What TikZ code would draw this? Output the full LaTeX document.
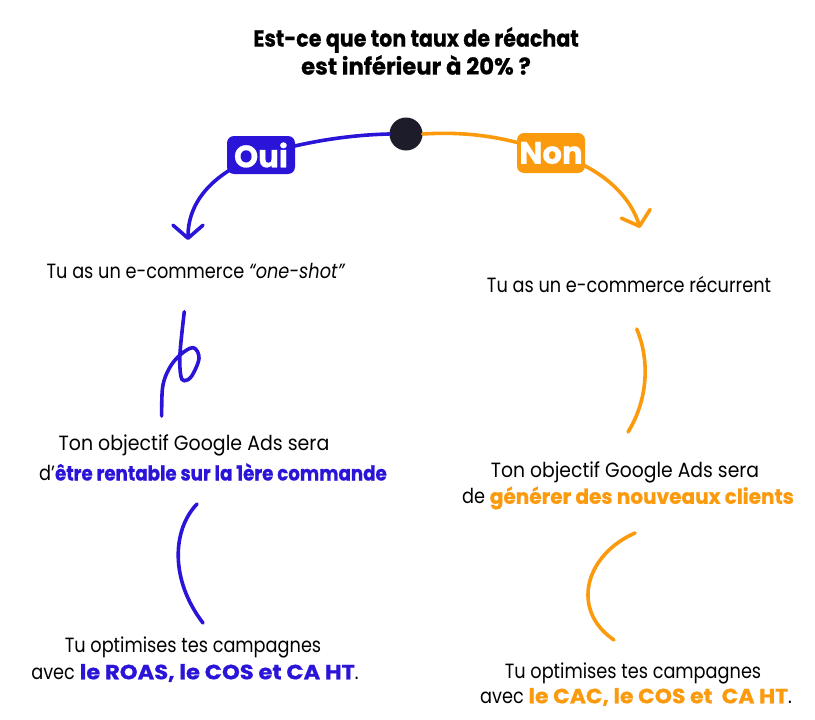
\documentclass[tikz,border=0pt]{standalone}
\usepackage{fontspec}
\usepackage{graphicx}
\setmainfont{Poppins}[FakeStretch=0.86, BoldFeatures={FakeStretch=0.885, FakeBold=0.6}, ItalicFeatures={FakeStretch=0.86}]
\usetikzlibrary{arrows.meta}
\definecolor{ouiblue}{HTML}{2A14D8}
\definecolor{nonorange}{HTML}{FB9A0C}
\definecolor{dotcol}{HTML}{1C1C2B}
\newcommand{\hwide}[2]{\scalebox{#1}[1]{#2}}
\tikzset{
  body/.style={font=\fontsize{20.6}{24}\selectfont, inner sep=0pt, anchor=center},
  titletxt/.style={font=\fontsize{23.3}{27}\selectfont\bfseries, inner sep=0pt, anchor=center},
  tag/.style={rounded corners=7pt, minimum width=68pt, minimum height=38pt, inner sep=0pt,
     text=white, font=\fontsize{31}{33}\selectfont\bfseries},
  curve/.style={line width=3.6pt, line cap=round},
  tip/.style={-{Straight Barb[length=13pt,width=30pt,round]}}
}
\begin{document}
\begin{tikzpicture}[x=1pt,y=-1pt]
\useasboundingbox[fill=white] (0,0) rectangle (815,720);
% title
\node[titletxt] (t1) at (416,40) {Est-ce que ton taux de réachat};
\node[titletxt] (t2) at (416,65) {\hwide{1.1}{est inférieur à 20\% ?}};
% central dot
\node[circle, fill=dotcol, minimum size=33pt, inner sep=0pt] (dot) at (406,134) {};
% tags
\coordinate (ouic) at (261,155);
\coordinate (nonc) at (551,153);
\coordinate (ouitip) at (188,240);
\coordinate (nontip) at (640,228);
\draw[curve, ouiblue] (dot.west) .. controls (345,135) and (300,143) .. (ouic);
\draw[curve, ouiblue, tip] (ouic) .. controls (215,172) and (188,200) .. (ouitip);
\draw[curve, nonorange] (dot.east) .. controls (470,131) and (510,138) .. (nonc);
\draw[curve, nonorange, tip] (nonc) .. controls (600,166) and (630,195) .. (nontip);
\node[tag, fill=ouiblue] (oui) at (ouic) {\hwide{1.12}{Oui}};
\node[tag, fill=nonorange, minimum height=40pt] (non) at (nonc) {\hwide{1.12}{Non}};
% left column
\node[body] (l1) at (196,271) {Tu as un e-commerce \textit{“one-shot”}};
\node[body] (l2a) at (194,445) {\hwide{1.07}{Ton objectif Google Ads sera}};
\node[body] (l2b) at (213,472) {d’\textcolor{ouiblue}{\bfseries être rentable sur la 1ère commande}};
\node[body] (l3a) at (193,647) {Tu optimises tes campagnes};
\node[body] (l3b) at (195,673) {avec \textcolor{ouiblue}{\hwide{1.24}{\bfseries le ROAS, le COS et CA HT}}.};
% right column
\node[body] (r1) at (629,285) {Tu as un e-commerce récurrent};
\node[body] (r2a) at (625,472) {\hwide{1.06}{Ton objectif Google Ads sera}};
\node[body] (r2b) at (628,498) {de \textcolor{nonorange}{\hwide{1.1}{\bfseries générer des nouveaux clients}}};
\node[body] (r3a) at (633,673) {Tu optimises tes campagnes};
\node[body] (r3b) at (636,697) {avec \textcolor{nonorange}{\hwide{1.2}{\bfseries le CAC, le COS et\ \ CA HT}}.};
% connectors between text blocks
\draw[curve, ouiblue] plot[smooth, tension=0.6] coordinates {(184.3,311.7) (180,353.3) (180.7,375) (184.3,380.7) (191.7,376) (199,358.3) (193.3,347.7) (180,355) (169.3,368.3) (162.7,386.7) (161.7,416)};
\draw[curve, ouiblue] (197,504) .. controls (172,530) and (170,580) .. (203,623);
\draw[curve, nonorange] (636.7,329) .. controls (650,360) and (648,400) .. (628,432);
\draw[curve, nonorange] (635,533) .. controls (585,555) and (570,610) .. (614,640);
\end{tikzpicture}
\end{document}
